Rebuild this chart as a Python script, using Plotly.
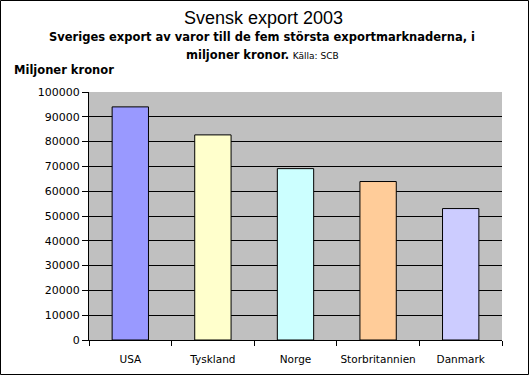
import plotly.graph_objects as go

categories = ["USA", "Tyskland", "Norge", "Storbritannien", "Danmark"]
values = [94000, 82700, 69100, 63900, 53000]
colors = ["#9999FF", "#FFFFCC", "#CCFFFF", "#FFCC99", "#CCCCFF"]
y_ticks = list(range(0, 100001, 10000))

W, H = 530, 376
ML, MR, MT, MB = 89, 28, 92, 36
PW, PH = W - ML - MR, H - MT - MB

def px(x):
    return (x - ML) / PW

def py(y):
    return (H - MB - y) / PH

fig = go.Figure()
fig.add_trace(go.Bar(
    x=categories, y=values,
    marker=dict(color=colors, line=dict(color="black", width=1)),
    width=0.44,
))

dv = "DejaVu Sans, Verdana, sans-serif"
ar = "Liberation Sans, Arial, sans-serif"
fig.update_layout(
    width=W, height=H,
    margin=dict(l=ML, r=MR, t=MT, b=MB, autoexpand=False),
    paper_bgcolor="white", plot_bgcolor="#C0C0C0",
    showlegend=False,
    font=dict(family=dv, size=11, color="black"),
    xaxis=dict(
        tickson="boundaries", ticks="outside", ticklen=5, tickcolor="black",
        showgrid=False, showline=True, linecolor="black", linewidth=1,
        tickfont=dict(size=10.5, family=dv), tickangle=0, automargin=False,
        ticklabelstandoff=9,
    ),
    yaxis=dict(
        range=[0, 100000], tickvals=y_ticks, ticktext=[str(v) for v in y_ticks],
        ticks="outside", ticklen=6, tickcolor="black",
        showgrid=True, gridcolor="black", gridwidth=1,
        showline=True, linecolor="black", linewidth=1,
        zeroline=False, tickfont=dict(size=11, family=dv), automargin=False,
    ),
    shapes=[dict(type="rect", xref="paper", yref="paper",
                 x0=px(0.5), x1=px(528.5), y0=py(374.5), y1=py(0.5),
                 line=dict(color="black", width=1))],
    annotations=[
        dict(text="Svensk export 2003", xref="paper", yref="paper",
             x=px(263), y=py(18), xanchor="center", yanchor="middle",
             showarrow=False, font=dict(size=18, family=ar)),
        dict(text="<b>Sveriges export av varor till de fem största exportmarknaderna, i</b>",
             xref="paper", yref="paper", x=px(262), y=py(37),
             xanchor="center", yanchor="middle", showarrow=False,
             font=dict(size=11.5, family=dv)),
        dict(text="<b>miljoner kronor.</b> <span style='font-size:9px'>Källa: SCB</span>",
             xref="paper", yref="paper", x=px(262), y=py(55),
             xanchor="center", yanchor="middle", showarrow=False,
             font=dict(size=11.5, family=dv)),
        dict(text="<b>Miljoner kronor</b>", xref="paper", yref="paper",
             x=px(12), y=py(70), xanchor="left", yanchor="middle",
             showarrow=False, font=dict(size=11.5, family=dv)),
    ],
)
fig.write_html("out.html", config={"displayModeBar": False},
               post_script="document.body.style.margin='0';document.body.style.overflow='hidden';")
